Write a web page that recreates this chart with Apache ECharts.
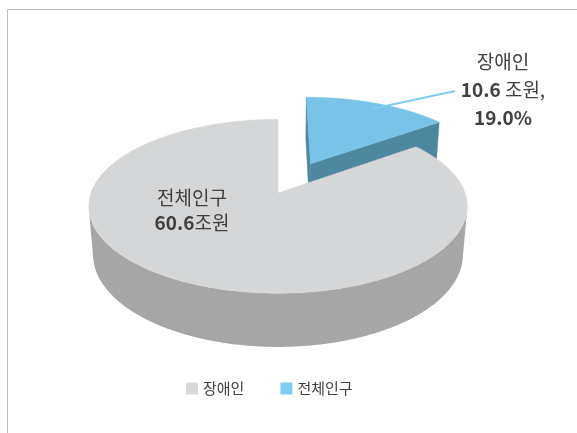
<!DOCTYPE html>
<html>
<head>
<meta charset="utf-8">
<script src="https://cdn.jsdelivr.net/npm/echarts@6/dist/echarts.min.js"></script>
<style>
  html, body { margin: 0; padding: 0; background: #fff; }
  #chart { width: 577px; height: 433px; }
</style>
</head>
<body>
<div id="chart"></div>
<script>
// 데이터
var sliceNames = ['장애인', '전체인구'];
var sliceValues = [10.6, 60.6];
var sliceShares = ['19.0%', ''];
var legendNames = ['장애인', '전체인구'];

var FONT = '"Noto Sans CJK KR", sans-serif';
var TOP_COLORS = ['#79c2e8', '#d5d6d7'];
var WALL_COLORS = ['#4e87a0', '#a6a6a6'];
var LEGEND_COLORS = ['#d9d9d9', '#7fcdf2'];

// 3D 투영 설정
var CX = 278, CY = 193, R = 187, DEPTH = 55, EXPLODE = 76;
var TILT = 27 * Math.PI / 180, FOCAL = 1090;
var SA = Math.sin(TILT), CA = Math.cos(TILT);
var CAM = [0, FOCAL * SA, -FOCAL * CA];

function proj (x, y, z) {
   var d = z * CA - y * SA;
   var s = FOCAL / (FOCAL + d);
   return [CX + x * s, CY - (z * SA + y * CA) * s];
}
function rim (off, th, y, r) {
   r = r || R;
   return proj(off[0] + r * Math.sin(th), y, off[1] + r * Math.cos(th));
}
function facing (n, p) {
   return n[0] * (CAM[0] - p[0]) + n[1] * (CAM[1] - p[1]) + n[2] * (CAM[2] - p[2]) > 0;
}

var total = sliceValues.reduce(function (a, b) { return a + b; }, 0);

function renderItem (params, api) {
   var i = params.dataIndex;
   var before = 0;
   for (var k = 0; k < i; k++) before += sliceValues[k];
   var a0 = before / total * Math.PI * 2;
   var a1 = (before + api.value(1)) / total * Math.PI * 2;
   var mid = (a0 + a1) / 2;
   var off = i === 0 ? [EXPLODE * Math.sin(mid), EXPLODE * Math.cos(mid)] : [0, 0];
   var children = [];
   var wall = WALL_COLORS[i], top = TOP_COLORS[i];

   // 바깥 옆면
   var steps = Math.max(2, Math.ceil((a1 - a0) / (Math.PI / 360)));
   var run = [];
   function flush () {
      if (run.length > 1) {
         var pts = run.map(function (t) { return rim(off, t, 0); })
            .concat(run.slice().reverse().map(function (t) { return rim(off, t, -DEPTH); }));
         children.push({ type: 'polygon', shape: { points: pts }, style: { fill: wall } });
      }
      run = [];
   }
   for (var s = 0; s <= steps; s++) {
      var t = a0 + (a1 - a0) * s / steps;
      var p = [off[0] + R * Math.sin(t), -DEPTH / 2, off[1] + R * Math.cos(t)];
      if (facing([Math.sin(t), 0, Math.cos(t)], p)) run.push(t); else flush();
   }
   flush();

   // 단면
   [[a0, -1], [a1, 1]].forEach(function (e) {
      var th = e[0], sg = e[1];
      var n = [sg * Math.cos(th), 0, -sg * Math.sin(th)];
      var p = [off[0] + R / 2 * Math.sin(th), -DEPTH / 2, off[1] + R / 2 * Math.cos(th)];
      if (facing(n, p)) {
         children.push({
            type: 'polygon',
            shape: { points: [proj(off[0], 0, off[1]), rim(off, th, 0), rim(off, th, -DEPTH), proj(off[0], -DEPTH, off[1])] },
            style: { fill: wall, stroke: wall, lineWidth: 0.5 }
         });
      }
   });

   // 윗면
   var topPts = [proj(off[0], 0, off[1])];
   for (var s2 = 0; s2 <= steps; s2++) {
      topPts.push(rim(off, a0 + (a1 - a0) * s2 / steps, 0));
   }
   children.push({ type: 'polygon', shape: { points: topPts }, style: { fill: top, stroke: top, lineWidth: 0.5 } });

   // 지시선
   if (i === 0) {
      var st = rim(off, mid, 0, R * 0.9);
      children.push({
         type: 'line',
         shape: { x1: st[0], y1: st[1], x2: 455, y2: 91 },
         style: { stroke: '#7fcdf2', lineWidth: 2 }
      });
   }
   return { type: 'group', children: children };
}

var myChart = echarts.init(document.getElementById('chart'));
var option = {
   animation: false,
   legend: {
      data: legendNames,
      left: 181,
      top: 376,
      icon: 'rect',
      itemWidth: 12,
      itemHeight: 12,
      itemGap: 36,
      textStyle: { fontSize: 15, color: '#404040', fontFamily: FONT }
   },
   graphic: [
      {
         type: 'rect',
         shape: { x: 7.5, y: 9.5, width: 620, height: 500 },
         style: { fill: 'none', stroke: '#bdbdbd', lineWidth: 1 },
         silent: true
      },
      {
         type: 'text',
         x: 503, y: 90,
         z: 100,
         style: {
            text: sliceNames[0] + '\n{b|' + sliceValues[0] + '} 조원,\n{b|' + sliceShares[0] + '}',
            align: 'center', verticalAlign: 'middle',
            fill: '#404040', font: '19px ' + FONT, lineHeight: 28,
            rich: { b: { fontWeight: 'bold', fontSize: 19, fontFamily: FONT, fill: '#404040', lineHeight: 28 } }
         }
      },
      {
         type: 'text',
         x: 192, y: 210,
         z: 100,
         style: {
            text: sliceNames[1] + '\n{b|' + sliceValues[1] + '}조원',
            align: 'center', verticalAlign: 'middle',
            fill: '#404040', font: '19px ' + FONT, lineHeight: 25,
            rich: { b: { fontWeight: 'bold', fontSize: 19, fontFamily: FONT, fill: '#404040', lineHeight: 25 } }
         }
      }
   ],
   series: [
      {
         type: 'custom',
         name: 'pie3d',
         coordinateSystem: 'none',
         renderItem: renderItem,
         data: sliceValues.map(function (v, i) { return [i, v]; })
      },
      {
         type: 'custom', name: legendNames[0], coordinateSystem: 'none',
         renderItem: function () { return null; }, data: [],
         itemStyle: { color: LEGEND_COLORS[0] }
      },
      {
         type: 'custom', name: legendNames[1], coordinateSystem: 'none',
         renderItem: function () { return null; }, data: [],
         itemStyle: { color: LEGEND_COLORS[1] }
      }
   ]
};
myChart.setOption(option);
window.addEventListener('resize', function () {
   myChart.resize();
});
</script>
</body>
</html>
